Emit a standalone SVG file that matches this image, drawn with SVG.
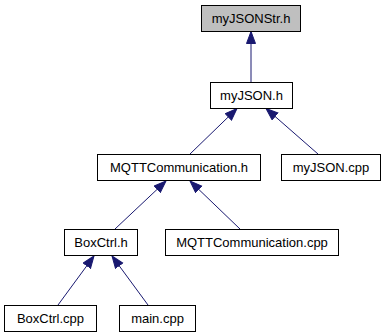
<svg xmlns="http://www.w3.org/2000/svg" width="385" height="336" viewBox="0 0 385 336">
  <style>
    .box { fill: #ffffff; stroke: #000000; stroke-width: 1; }
    .box.current { fill: #bfbfbf; }
    .label { font-family: "Liberation Sans", Arial, sans-serif; font-size: 13px; fill: #000000; text-anchor: middle; }
    .edge { stroke: #191970; stroke-width: 1; fill: none; marker-end: url(#arrow); }
  </style>
  <defs>
    <!-- filled include-arrowhead, tip sits on the parent box edge -->
    <marker id="arrow" markerUnits="userSpaceOnUse" markerWidth="14" markerHeight="12" refX="12.5" refY="5" orient="auto">
      <path d="M0.5,0.5 L12.5,5 L0.5,9.5 z" fill="#191970" stroke="#191970" stroke-width="1"/>
    </marker>
  </defs>

  <g id="edges">
    <line class="edge" x1="251" y1="82" x2="251" y2="31.5"/>
    <line class="edge" x1="190" y1="154" x2="237" y2="108.5"/>
    <line class="edge" x1="318" y1="154" x2="266" y2="108.5"/>
    <line class="edge" x1="115" y1="229" x2="166" y2="181"/>
    <line class="edge" x1="240" y1="229" x2="190" y2="181"/>
    <line class="edge" x1="58" y1="305" x2="94" y2="256"/>
    <line class="edge" x1="148" y1="305" x2="112" y2="256"/>
  </g>

  <g id="node-myJSONStr_h">
    <rect class="box current" x="201.5" y="5.5" width="99" height="26"/>
    <text class="label" x="251" y="23">myJSONStr.h</text>
  </g>
  <g id="node-myJSON_h">
    <rect class="box" x="210.5" y="82.5" width="82" height="26"/>
    <text class="label" x="251.5" y="100">myJSON.h</text>
  </g>
  <g id="node-MQTTCommunication_h">
    <rect class="box" x="97.5" y="154.5" width="163" height="26"/>
    <text class="label" x="179" y="172">MQTTCommunication.h</text>
  </g>
  <g id="node-myJSON_cpp">
    <rect class="box" x="281.5" y="154.5" width="99" height="26"/>
    <text class="label" x="331" y="172">myJSON.cpp</text>
  </g>
  <g id="node-BoxCtrl_h">
    <rect class="box" x="64.5" y="229.5" width="73" height="26"/>
    <text class="label" x="101" y="247">BoxCtrl.h</text>
  </g>
  <g id="node-MQTTCommunication_cpp">
    <rect class="box" x="165.5" y="229.5" width="173" height="26"/>
    <text class="label" x="252" y="247">MQTTCommunication.cpp</text>
  </g>
  <g id="node-BoxCtrl_cpp">
    <rect class="box" x="4.5" y="305.5" width="92" height="26"/>
    <text class="label" x="50.5" y="323">BoxCtrl.cpp</text>
  </g>
  <g id="node-main_cpp">
    <rect class="box" x="119.5" y="305.5" width="76" height="26"/>
    <text class="label" x="157.5" y="323">main.cpp</text>
  </g>
</svg>
